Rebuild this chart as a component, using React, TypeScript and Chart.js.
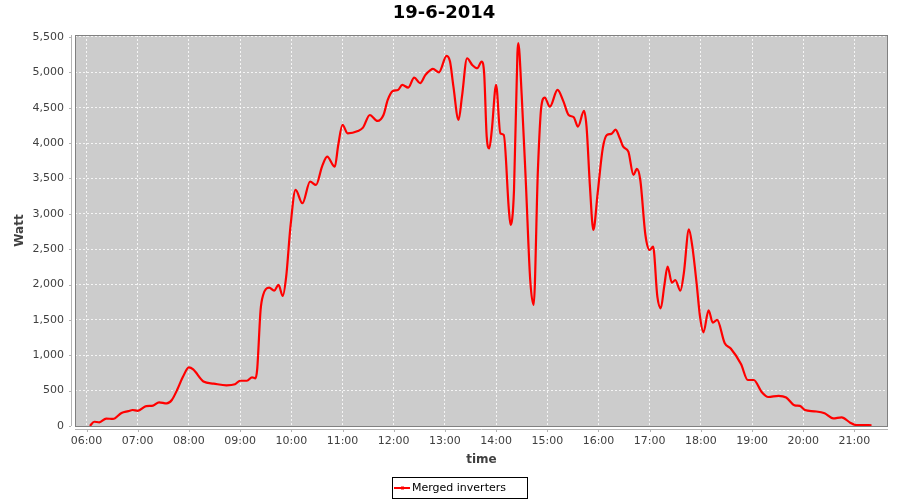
import React, { useEffect, useRef } from "react";
import { Chart, registerables } from "chart.js";

Chart.register(...registerables);

const chartTitle = "19-6-2014";
const seriesLabel = "Merged inverters";
const xAxisTitle = "time";
const yAxisTitle = "Watt";

const times: string[] = [
  "06:04", "06:09", "06:15", "06:23", "06:31", "06:41", "06:49", "06:54", "07:00", "07:10",
  "07:18", "07:25", "07:34", "07:40", "07:46", "07:53", "08:00", "08:05", "08:17", "08:29",
  "08:44", "08:54", "09:00", "09:08", "09:14", "09:18", "09:20", "09:24", "09:27", "09:34",
  "09:40", "09:45", "09:50", "09:54", "09:59", "10:05", "10:13", "10:22", "10:29", "10:36",
  "10:42", "10:51", "10:55", "11:00", "11:06", "11:18", "11:24", "11:32", "11:41", "11:48",
  "11:53", "11:59", "12:05", "12:10", "12:17", "12:24", "12:31", "12:37", "12:43", "12:46",
  "12:53", "13:02", "13:06", "13:10", "13:16", "13:20", "13:26", "13:32", "13:38", "13:43",
  "13:46", "13:49", "13:52", "13:55", "14:00", "14:05", "14:09", "14:15", "14:17", "14:21",
  "14:25", "14:26", "14:30", "14:35", "14:40", "14:44", "14:49", "14:53", "14:57", "15:03",
  "15:12", "15:19", "15:25", "15:31", "15:36", "15:43", "15:46", "15:50", "15:54", "15:59",
  "16:05", "16:10", "16:15", "16:20", "16:25", "16:29", "16:35", "16:41", "16:45", "16:49",
  "16:55", "17:00", "17:04", "17:09", "17:13", "17:17", "17:21", "17:26", "17:30", "17:36",
  "17:40", "17:46", "17:50", "17:55", "17:59", "18:03", "18:09", "18:14", "18:19", "18:28",
  "18:35", "18:47", "18:55", "19:02", "19:11", "19:19", "19:31", "19:40", "19:50", "19:56",
  "20:02", "20:13", "20:25", "20:35", "20:45", "20:55", "21:02", "21:10", "21:20",
];

const watts: number[] = [
  0, 60, 52, 105, 100, 185, 210, 226, 215, 280,
  288, 335, 320, 368, 505, 695, 828, 800, 630, 600,
  575, 590, 640, 640, 688, 674, 800, 1640, 1852, 1956,
  1913, 1994, 1838, 2111, 2818, 3337, 3149, 3455, 3408, 3667,
  3808, 3667, 3973, 4256, 4138, 4171, 4218, 4397, 4313, 4397,
  4610, 4737, 4751, 4822, 4784, 4926, 4846, 4960, 5030, 5048,
  5001, 5232, 5152, 4798, 4327, 4657, 5199, 5105, 5058, 5152,
  4987, 4091, 3926, 4186, 4822, 4138, 4115, 3054, 2842, 3337,
  5270, 5412, 4680, 3408, 2064, 1711, 3620, 4515, 4643, 4515,
  4751, 4586, 4397, 4365, 4233, 4454, 4233, 3384, 2771, 3290,
  3926, 4115, 4130, 4190, 4068, 3949, 3879, 3549, 3634, 3478,
  2700, 2488, 2535, 1828, 1664, 1970, 2253, 2026, 2064, 1913,
  2159, 2781, 2535, 2017, 1545, 1325, 1635, 1461, 1499, 1169,
  1095, 875, 650, 650, 485, 410, 427, 403, 292, 285,
  226, 208, 180, 108, 123, 47, 14, 14, 10,
];

const xTickLabels: string[] = [
  "06:00", "07:00", "08:00", "09:00", "10:00", "11:00", "12:00", "13:00",
  "14:00", "15:00", "16:00", "17:00", "18:00", "19:00", "20:00", "21:00",
];

const yTickValues: number[] = [0, 500, 1000, 1500, 2000, 2500, 3000, 3500, 4000, 4500, 5000, 5500];

const toMinutes = (t: string) => {
  const [h, m] = t.split(":").map(Number);
  return h * 60 + m;
};
const fmtTime = (v: number) => {
  const h = Math.floor(v / 60);
  const m = Math.round(v - h * 60);
  return String(h).padStart(2, "0") + ":" + String(m).padStart(2, "0");
};

const FONT = "'DejaVu Sans', sans-serif";

export default function App() {
  const ref = useRef<HTMLCanvasElement | null>(null);

  useEffect(() => {
    if (!ref.current) return;
    const xTickValues = xTickLabels.map(toMinutes);
    const points = times.map((t, i) => ({ x: toMinutes(t), y: watts[i] }));

    const framePlugin = {
      id: "jfreeFrame",
      beforeDraw(chart: any) {
        const { ctx, chartArea: a } = chart;
        ctx.save();
        ctx.fillStyle = "#cccccc";
        ctx.fillRect(a.left, a.top, a.right - a.left, a.bottom - a.top);
        ctx.restore();
      },
      afterDraw(chart: any) {
        const { ctx, chartArea: a, scales } = chart;
        ctx.save();
        // plot outline
        ctx.strokeStyle = "#808080";
        ctx.lineWidth = 1;
        ctx.strokeRect(a.left + 0.5, a.top + 0.5, a.right - a.left - 1, a.bottom - a.top);
        // axis lines (offset)
        ctx.strokeStyle = "#b4b4b4";
        ctx.beginPath();
        ctx.moveTo(a.left, a.bottom + 3.5);
        ctx.lineTo(a.right, a.bottom + 3.5);
        ctx.moveTo(a.left - 3.5, a.top);
        ctx.lineTo(a.left - 3.5, a.bottom);
        scales.x.ticks.forEach((t: any) => {
          const px = Math.round(scales.x.getPixelForValue(t.value)) + 0.5;
          ctx.moveTo(px, a.bottom + 4);
          ctx.lineTo(px, a.bottom + 6);
        });
        scales.y.ticks.forEach((t: any) => {
          const py = Math.round(scales.y.getPixelForValue(t.value)) + 0.5;
          ctx.moveTo(a.left - 4, py);
          ctx.lineTo(a.left - 6, py);
        });
        ctx.stroke();

        // legend
        const ds = chart.data.datasets[0];
        ctx.strokeStyle = "#000000";
        ctx.lineWidth = 1;
        ctx.strokeRect(392.5, 477.5, 135, 21);
        ctx.strokeStyle = ds.borderColor;
        ctx.lineWidth = 2;
        ctx.beginPath();
        ctx.moveTo(394, 488);
        ctx.lineTo(410, 488);
        ctx.stroke();
        ctx.fillStyle = ds.borderColor;
        ctx.fillRect(401, 486.5, 3, 3);
        ctx.fillStyle = "#000000";
        ctx.font = "11px " + FONT;
        ctx.textBaseline = "middle";
        ctx.textAlign = "left";
        ctx.fillText(ds.label, 412, 488);
        ctx.restore();
      },
    };

    const chart = new Chart(ref.current, {
      type: "line",
      data: {
        datasets: [
          {
            label: seriesLabel,
            data: points,
            borderColor: "#ff0000",
            backgroundColor: "#ff0000",
            borderWidth: 2.2,
            pointRadius: 0,
            cubicInterpolationMode: "monotone",
            fill: false,
          },
        ],
      },
      options: {
        responsive: false,
        animation: false,
        layout: { padding: { left: 0, right: 12, top: 0, bottom: 0 } },
        plugins: {
          legend: { display: false },
          tooltip: { enabled: false },
          title: {
            display: true,
            text: chartTitle,
            color: "#000000",
            font: { family: FONT, size: 18, weight: "bold" },
            padding: { top: 2.5, bottom: 10.9 },
          },
        },
        scales: {
          x: {
            type: "linear",
            min: 346.5,
            max: 1299.3,
            afterBuildTicks: (s: any) => {
              s.ticks = xTickValues.map((v) => ({ value: v }));
            },
            afterFit: (s: any) => {
              s.height = 74;
            },
            border: { display: false, dash: [2, 2] },
            grid: {
              color: "rgba(255,255,255,0.8)",
              lineWidth: 1,
              drawTicks: false,
            },
            ticks: {
              padding: 9,
              color: "#404040",
              font: { family: FONT, size: 11 },
              autoSkip: false,
              maxRotation: 0,
              callback: (v: any) => fmtTime(Number(v)),
            },
            title: {
              display: true,
              text: xAxisTitle,
              color: "#404040",
              font: { family: FONT, size: 12, weight: "bold" },
              padding: { top: 0, bottom: 32.8 },
            },
          },
          y: {
            type: "linear",
            min: 0,
            max: 5528,
            afterBuildTicks: (s: any) => {
              s.ticks = yTickValues.map((v) => ({ value: v }));
            },
            afterFit: (s: any) => {
              s.width = 75;
            },
            border: { display: false, dash: [2, 2] },
            grid: {
              color: "rgba(255,255,255,0.8)",
              lineWidth: 1,
              drawTicks: false,
            },
            ticks: {
              padding: 11,
              color: "#404040",
              font: { family: FONT, size: 11 },
              callback: (v: any) => Number(v).toLocaleString("en-US"),
            },
            title: {
              display: true,
              text: yAxisTitle,
              color: "#404040",
              font: { family: FONT, size: 12, weight: "bold" },
              padding: { top: 12.8, bottom: 0 },
            },
          },
        },
      },
      plugins: [framePlugin],
    } as any);

    return () => chart.destroy();
  }, []);

  return (
    <div style={{ position: "fixed", left: 0, top: 0, width: 900, height: 500, background: "#ffffff" }}>
      <canvas ref={ref} width={900} height={500} />
    </div>
  );
}
